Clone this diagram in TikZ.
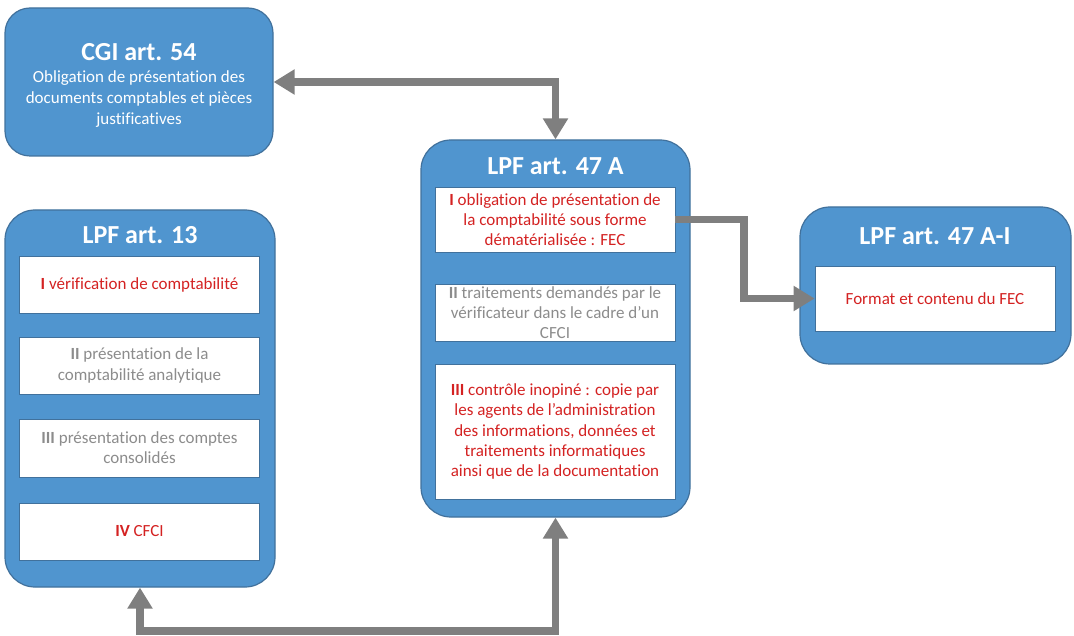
\documentclass[tikz,border=0pt]{standalone}
\usepackage{fontspec}
\setmainfont{Carlito}[Ligatures={NoCommon}]
\usetikzlibrary{arrows.meta}
\definecolor{boxblue}{RGB}{80,149,207}
\definecolor{boxborder}{RGB}{65,113,156}
\definecolor{txtred}{RGB}{212,34,34}
\definecolor{txtgray}{RGB}{140,140,140}
\definecolor{arrowgray}{RGB}{127,127,127}
\newcommand{\apos}{{\char"27}}
\tikzset{
  outerbox/.style={draw=boxborder, fill=boxblue, line width=1.2pt, rounded corners=30pt, inner sep=0pt},
  innerbox/.style={draw=boxborder, fill=white, line width=0.8pt, inner sep=0pt, minimum width=240pt, align=center, font=\fontsize{17}{20.3}\selectfont},
  redtext/.style={text=txtred},
  graytext/.style={text=txtgray},
  titletext/.style={text=white, font=\fontsize{26}{30}\selectfont\bfseries, inner sep=0pt},
  bodytext/.style={text=white, font=\fontsize{17}{21}\selectfont, align=center, inner sep=0pt},
  conn/.style={draw=arrowgray, line width=7.5pt, line join=miter},
  tip/.tip={Triangle[width=24pt,length=21pt]}
}
\begin{document}
\begin{tikzpicture}[x=1pt,y=-1pt]
\useasboundingbox (0,0) rectangle (1074,636);

% CGI art. 54
\node[outerbox, rounded corners=25pt, minimum width=268pt, minimum height=148pt] (cgi) at (139,82) {};
\node[titletext] (cgititle) at (139,52) {CGI art. 54};
\node[bodytext] (cgitext) at (139,99.5) {Obligation de présentation des\\documents comptables et pièces\\justificatives};

% LPF art. 13
\node[outerbox, minimum width=270pt, minimum height=377pt] (a13) at (140,398.5) {};
\node[titletext] (a13title) at (140,235) {LPF art. 13};
\node[innerbox, redtext, minimum height=57pt] (a13i1) at (139.5,284.5) {\textbf{I} vérification de comptabilité};
\node[innerbox, graytext, minimum height=57pt] (a13i2) at (139.5,365.5) {\textbf{II} présentation de la\\comptabilité analytique};
\node[innerbox, graytext, minimum height=58pt] (a13i3) at (139.5,448) {\textbf{III} présentation des comptes\\consolidés};
\node[innerbox, redtext, minimum height=57pt] (a13i4) at (139.5,531.5) {\textbf{IV} CFCI};

% LPF art. 47 A
\node[outerbox, minimum width=269pt, minimum height=377pt] (a47) at (555.5,328.5) {};
\node[titletext] (a47title) at (555.5,166) {LPF art. 47 A};
\node[innerbox, redtext, minimum height=65pt] (a47i1) at (555,219.5) {\textbf{I} obligation de présentation de\\la comptabilité sous forme\\dématérialisée : FEC};
\node[innerbox, graytext, minimum height=57pt] (a47i2) at (555,312.5) {\textbf{II} traitements demandés par le\\vérificateur dans le cadre d\apos un\\CFCI};
\node[innerbox, redtext, minimum height=135pt] (a47i3) at (555,431.5) {\textbf{III} contrôle inopiné : copie par\\les agents de l\apos administration\\des informations, données et\\traitements informatiques\\ainsi que de la documentation};

% LPF art. 47 A-I
\node[outerbox, minimum width=271pt, minimum height=157pt] (ai) at (935.5,285.5) {};
\node[titletext] (aititle) at (935,236) {LPF art. 47 A-I};
\node[innerbox, redtext, minimum height=65pt] (fec) at (935,298.5) {Format et contenu du FEC};

% connectors
\draw[conn, {tip}-{tip}] (cgi.east) -| (a47.north);
\coordinate (bend) at (744,0);
\draw[conn, -{tip}] (a47i1.east) -- (a47i1.east -| bend) |- (fec.west);
\coordinate (bottom) at (0,631);
\draw[conn, {tip}-{tip}] (a13.south) -- (a13.south |- bottom) -| (a47.south);
\end{tikzpicture}
\end{document}
